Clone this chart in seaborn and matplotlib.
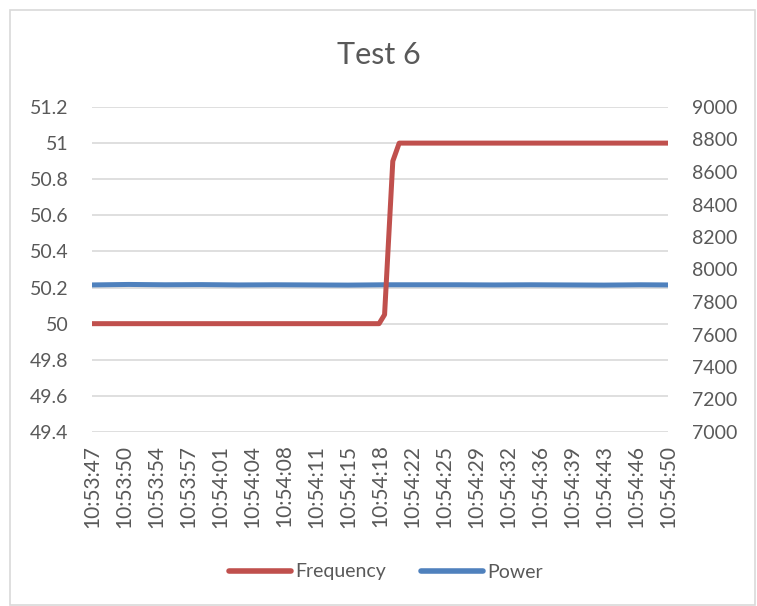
import matplotlib
matplotlib.use("Agg")
import matplotlib.pyplot as plt
import seaborn as sns
import pandas as pd
from matplotlib.patches import Rectangle
from matplotlib.lines import Line2D

# ---- data (seconds after 10:53:47) ----
freq_t = [0, 31.4, 32.0, 32.9, 33.6, 63]
freq_v = [50.0, 50.0, 50.05, 50.9, 51.0, 51.0]

power_t = [0, 4, 8, 12, 16, 20, 24, 28, 32, 36, 40, 44, 48, 52, 56, 60, 63]
power_v = [7905, 7908, 7906, 7907, 7905, 7906, 7905, 7904, 7906, 7906, 7906, 7905, 7906, 7905, 7904, 7906, 7905]

tick_labels = ["10:53:47", "10:53:50", "10:53:54", "10:53:57", "10:54:01", "10:54:04",
               "10:54:08", "10:54:11", "10:54:15", "10:54:18", "10:54:22", "10:54:25",
               "10:54:29", "10:54:32", "10:54:36", "10:54:39", "10:54:43", "10:54:46",
               "10:54:50"]
left_ticks = [49.4, 49.6, 49.8, 50, 50.2, 50.4, 50.6, 50.8, 51, 51.2]
right_ticks = [7000, 7200, 7400, 7600, 7800, 8000, 8200, 8400, 8600, 8800, 9000]

title = "Test 6"
RED = "#C0504D"
BLUE = "#4F81BD"
GRAY = "#595959"
GRID = "#D9D9D9"

sns.set_theme(style="white")
plt.rcParams["font.family"] = ["Lato", "DejaVu Sans"]

W, H = 757, 606
fig = plt.figure(figsize=(W / 100, H / 100), dpi=100)
fig.patches.append(Rectangle((10 / W, 0.002), (W - 12) / W, 1 - 10 / H - 0.002,
                             transform=fig.transFigure, fill=False,
                             edgecolor=GRID, linewidth=1.2))

left, right, top, bottom = 92, 668, 107, 432
ax = fig.add_axes([left / W, 1 - bottom / H, (right - left) / W, (bottom - top) / H])
ax2 = ax.twinx()

df_f = pd.DataFrame({"t": freq_t, "v": freq_v})
df_p = pd.DataFrame({"t": power_t, "v": power_v})

sns.lineplot(data=df_f, x="t", y="v", ax=ax, color=RED, linewidth=3.6,
             solid_capstyle="round", solid_joinstyle="round", zorder=3)
sns.lineplot(data=df_p, x="t", y="v", ax=ax2, color=BLUE, linewidth=3.6,
             solid_capstyle="round", solid_joinstyle="round", zorder=3)

ax.set_zorder(2)
ax.patch.set_visible(False)
ax2.set_zorder(1)

ax.set_xlim(0, 63)
ax.set_ylim(49.4, 51.2)
ax2.set_ylim(7000, 9000)
ax.set_yticks(left_ticks)
ax.set_yticklabels([f"{v:g}" for v in left_ticks])
ax2.set_yticks(right_ticks)
ax2.set_yticklabels([str(v) for v in right_ticks])
xt = [i * 63 / (len(tick_labels) - 1) for i in range(len(tick_labels))]
ax.set_xticks(xt)
ax.set_xticklabels(tick_labels, rotation=90)

for a in (ax, ax2):
    for s in a.spines.values():
        s.set_visible(False)
    a.set_xlabel("")
    a.set_ylabel("")
    a.tick_params(length=0, colors=GRAY, labelsize=14)
ax.tick_params(axis="y", pad=17)
ax2.tick_params(axis="y", pad=17)
ax.tick_params(axis="x", pad=9, labelsize=15)

# horizontal gridlines (drawn on the right-axis axes, beneath the lines)
for v in left_ticks:
    ax2.axhline(7000 + (v - 49.4) / 1.8 * 2000, color=GRID, linewidth=1.2, zorder=0)

fig.text(0.5, 1 - 55 / H, title, ha="center", va="center", fontsize=22, color=GRAY)

handles = [Line2D([], [], color=RED, linewidth=4, solid_capstyle="round"),
           Line2D([], [], color=BLUE, linewidth=4, solid_capstyle="round")]
fig.legend(handles, ["Frequency", "Power"], loc="center", ncol=2,
           bbox_to_anchor=(386 / W, 1 - 572 / H), frameon=False, fontsize=14,
           labelcolor=GRAY, handlelength=3.2, handletextpad=0.2, columnspacing=1.8)

fig.savefig("out.png", dpi=100)
